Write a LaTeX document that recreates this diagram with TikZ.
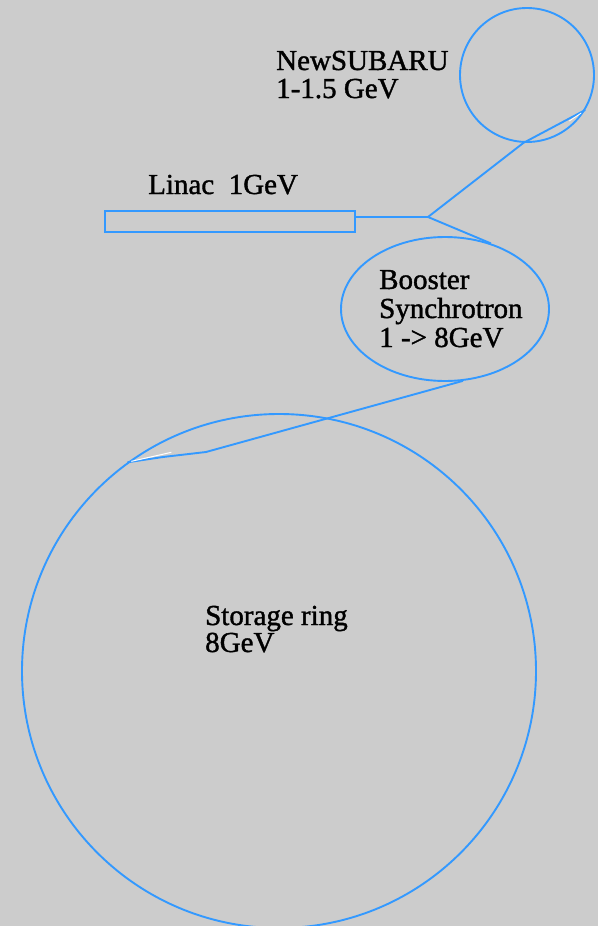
\documentclass[tikz,border=0pt]{standalone}
\usepackage{fontspec}
\setmainfont[FakeBold=1.3]{Liberation Serif}
\usetikzlibrary{shapes.geometric}
\definecolor{bg}{RGB}{204,204,204}
\definecolor{beam}{RGB}{51,153,255}
\begin{document}
\begin{tikzpicture}[x=1pt,y=-1pt,
  ringshape/.style={draw=beam, line width=1.9pt, circle, inner sep=0pt, minimum size=#1},
  beamline/.style={draw=beam, line width=1.9pt, line join=round},
  lbl/.style={anchor=base west, inner sep=0pt, font=\fontsize{29}{29}\selectfont, text=black}]
\fill[bg] (0,0) rectangle (598,926);
\useasboundingbox (0,0) rectangle (598,926);

% machines
\node[ringshape=134pt] (nsb) at (527,75) {};
\node[draw=beam, line width=1.9pt, rectangle, inner sep=0pt, minimum width=250pt, minimum height=21pt] (linac) at (230,221.5) {};
\node[draw=beam, line width=1.9pt, ellipse, inner sep=0pt, minimum width=208pt, minimum height=144pt] (booster) at (445,309) {};
\node[ringshape=514pt] (storage) at (279,671) {};

% labels
\node[lbl] (nsbname) at (276,70) {NewSUBARU};
\node[lbl] (nsbenergy) at (276,98) {1-1.5 GeV};
\node[lbl] (linacname) at (148,194) {Linac\ \ 1GeV};
\node[lbl] (boostA) at (379,289) {Booster};
\node[lbl] (boostB) at (379,318) {Synchrotron};
\node[lbl] (boostC) at (379,347) {1 -> 8GeV};
\node[lbl] (storA) at (205,625) {Storage ring};
\node[lbl] (storB) at (205,652) {8GeV};

% transport lines
\coordinate (junction) at (428,217);
\coordinate (bendA) at (206,452);
\coordinate (bendB) at (163,457);
\draw[beamline] (linac.east |- junction) -- (junction);
\draw[beamline] (junction) -- (nsb.-93.5) -- (nsb.-31);
\draw[beamline] (junction) -- (booster.55);
\draw[beamline] (booster.-76.7) -- (bendA) -- (bendB) -- (storage.126.7);

% white glints
\draw[white, line width=1pt] (storage.126.7) ++(4,-1) -- ++(40,-9);
\draw[white, line width=0.8pt] (nsb.-31) ++(-4,3) -- ++(-12,8);
\end{tikzpicture}
\end{document}
